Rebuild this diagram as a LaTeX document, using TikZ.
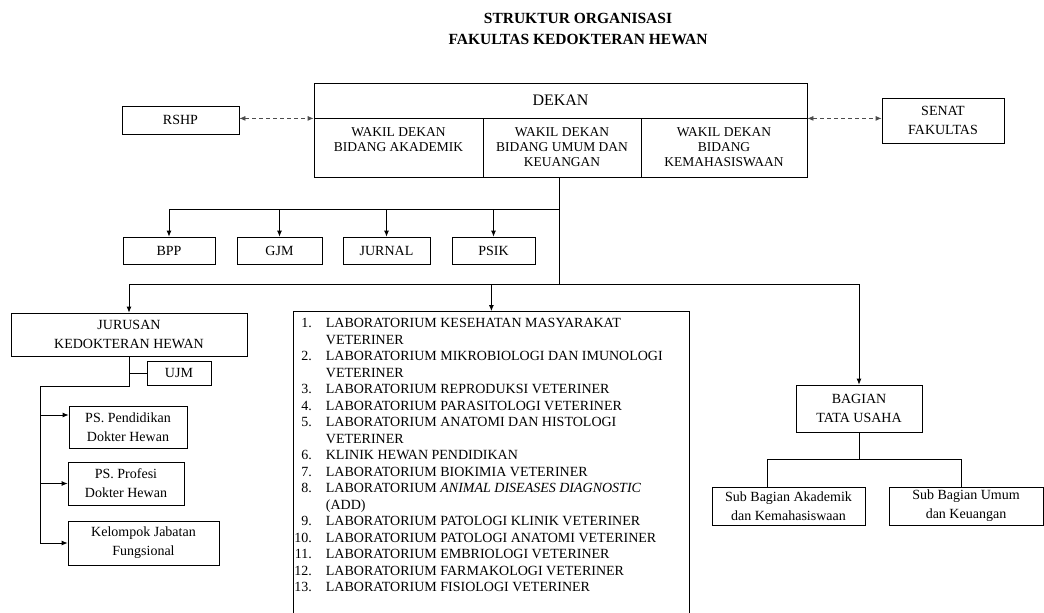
\documentclass[tikz,border=0pt]{standalone}
\usepackage{fontspec}
\setmainfont{Liberation Serif}
\usetikzlibrary{arrows.meta}
\usetikzlibrary{positioning}

\tikzset{
  unit/.style={draw, inner sep=0pt, align=center, font=\fontsize{14}{19}\selectfont},
  link/.style={<->, dashed, dash pattern=on 4pt off 3pt, black!70},
}
\newcommand\topcell[2]{\parbox[c][59pt][t]{#1}{\centering\fontsize{13.5}{15}\selectfont\rule{0pt}{18pt}#2}}

\begin{document}
\begin{tikzpicture}[x=1pt, y=-1pt, >={Latex[length=6pt,width=5pt]}, line width=0.8pt]
\useasboundingbox (0,0) rectangle (1044,613);
\node[font=\bfseries\fontsize{15.5}{21}\selectfont, align=center] (title) at (578,29) {STRUKTUR ORGANISASI\\FAKULTAS KEDOKTERAN HEWAN};

\node[unit, minimum width=493pt, minimum height=35pt, font=\fontsize{16}{18}\selectfont] (dekan) at (560.5,100.5) {DEKAN};
\node[unit] (wdakad) at (398.5,147.5) {\topcell{169pt}{WAKIL DEKAN\\BIDANG AKADEMIK}};
\node[unit] (wdumum) at (562,147.5) {\topcell{158pt}{WAKIL DEKAN\\BIDANG UMUM DAN\\KEUANGAN}};
\node[unit] (wdmhs) at (724,147.5) {\topcell{166pt}{WAKIL DEKAN\\BIDANG\\KEMAHASISWAAN}};
\node[unit, minimum width=117pt, minimum height=28pt] (rshp) at (180.5,120) {RSHP};
\node[unit, minimum width=122pt, minimum height=45pt] (senat) at (943,120.5) {SENAT\\FAKULTAS};

\node[unit, minimum width=92pt, minimum height=27pt] (bpp) at (169,250.5) {BPP};
\node[unit, minimum width=85pt, minimum height=27pt] (gjm) at (279.5,250.5) {GJM};
\node[unit, minimum width=87pt, minimum height=27pt] (jurnal) at (386.5,250.5) {JURNAL};
\node[unit, minimum width=83pt, minimum height=27pt] (psik) at (493.5,250.5) {PSIK};

\node[unit, minimum width=236pt, minimum height=43pt] (jurusan) at (129,334.5) {JURUSAN\\KEDOKTERAN HEWAN};
\node[unit, minimum width=64pt, minimum height=24pt] (ujm) at (179,373) {UJM};
\node[unit, minimum width=118pt, minimum height=42pt] (psdokter) at (128,427) {PS. Pendidikan\\Dokter Hewan};
\node[unit, minimum width=116pt, minimum height=43pt] (psprofesi) at (126,483.5) {PS. Profesi\\Dokter Hewan};
\node[unit, minimum width=151pt, minimum height=44pt] (kjf) at (143.5,543) {Kelompok Jabatan\\Fungsional};

\node[draw, inner sep=0pt, minimum width=396pt, minimum height=330pt, anchor=north west] (lab) at (293,311) {};
\node[anchor=north west, inner sep=0pt, font=\fontsize{14}{16.5}\selectfont] (labtext) at ([xshift=1pt,yshift=-5pt]lab.north west) {%
\begin{tabular}{@{}r@{\hspace{14pt}}l@{}}
1. & LABORATORIUM KESEHATAN MASYARAKAT\\
   & VETERINER\\
2. & LABORATORIUM MIKROBIOLOGI DAN IMUNOLOGI\\
   & VETERINER\\
3. & LABORATORIUM REPRODUKSI VETERINER\\
4. & LABORATORIUM PARASITOLOGI VETERINER\\
5. & LABORATORIUM ANATOMI DAN HISTOLOGI\\
   & VETERINER\\
6. & KLINIK HEWAN PENDIDIKAN\\
7. & LABORATORIUM BIOKIMIA VETERINER\\
8. & LABORATORIUM \textit{ANIMAL DISEASES DIAGNOSTIC}\\
   & (ADD)\\
9. & LABORATORIUM PATOLOGI KLINIK VETERINER\\
10. & LABORATORIUM PATOLOGI ANATOMI VETERINER\\
11. & LABORATORIUM EMBRIOLOGI VETERINER\\
12. & LABORATORIUM FARMAKOLOGI VETERINER\\
13. & LABORATORIUM FISIOLOGI VETERINER
\end{tabular}};

\node[unit, minimum width=126pt, minimum height=47pt] (bagian) at (859,408.5) {BAGIAN\\TATA USAHA};
\node[unit, minimum width=153pt, minimum height=38pt] (subakad) at (788.5,506) {Sub Bagian Akademik\\dan Kemahasiswaan};
\node[unit, minimum width=154pt, minimum height=38pt] (subumum) at (966,506) {Sub Bagian Umum\\dan Keuangan};

\draw[link] (dekan.south west -| rshp.east) -- (dekan.south west);
\draw[link] (dekan.south east) -- (dekan.south east -| senat.west);

\coordinate (busA) at (559,209);
\coordinate (busB) at (559,284);
\draw (busA |- wdumum.south) -- (busB);
\draw (busA) -- (busA -| bpp);
\foreach \n in {bpp,gjm,jurnal,psik} \draw[->] (busA -| \n) -- (\n);
\draw (busB -| jurusan) -- (busB -| bagian);
\foreach \n in {jurusan,lab,bagian} \draw[->] (busB -| \n) -- (\n);

\coordinate (busC) at (40,386);
\draw (jurusan) -- (jurusan |- busC) -- (busC) -- (busC |- kjf);
\draw (jurusan |- ujm) -- (ujm);
\coordinate (inA) at ([yshift=12pt]psdokter.west);
\draw[->] (busC |- inA) -- (inA);
\draw[->] (busC |- psprofesi) -- (psprofesi);
\draw[->] (busC |- kjf) -- (kjf);

\coordinate (busD) at (859,459);
\coordinate (dropA) at (767,459);
\coordinate (dropB) at (961,459);
\draw (bagian) -- (busD);
\draw (dropA |- subakad.north) -- (dropA) -- (dropB) -- (dropB |- subumum.north);
\end{tikzpicture}
\end{document}
